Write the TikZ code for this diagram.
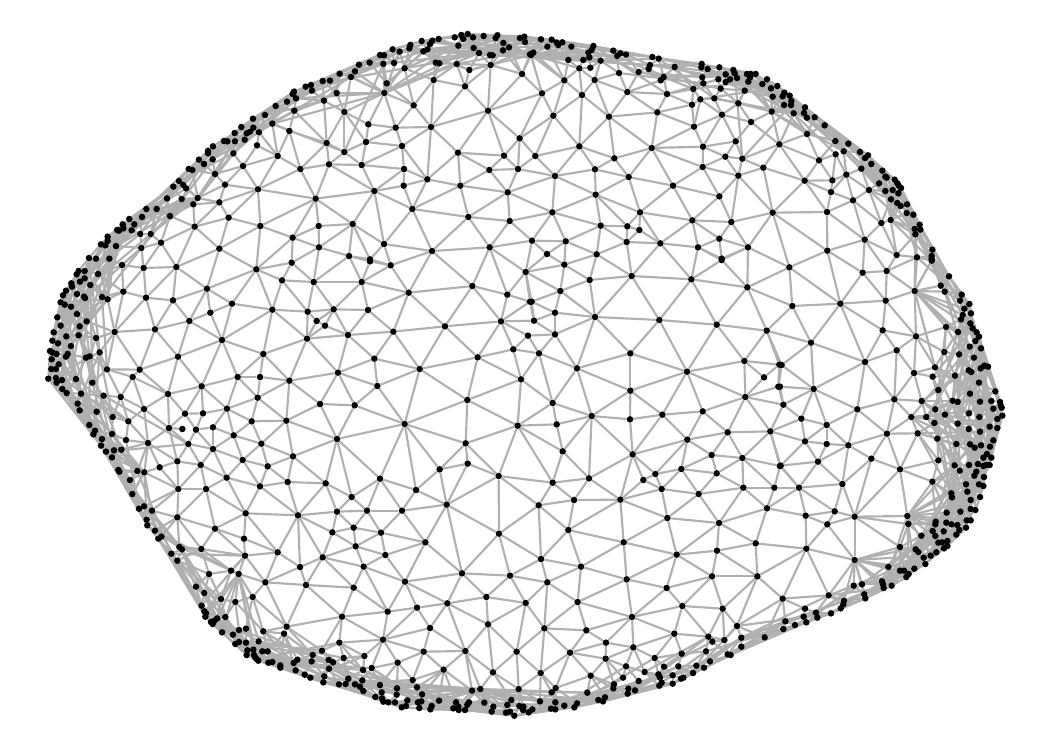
\documentclass[tikz,border=0pt]{standalone}
\usetikzlibrary{backgrounds}
\definecolor{edgegray}{HTML}{B0B0B0}
\tikzset{dotnode/.style={circle,fill=black,inner sep=0pt,minimum size=4.9pt},linkline/.style={draw=edgegray,line width=1.6pt}}
\newcount\NP
\newcount\minL \newcount\minR \newcount\hubid \newcount\scanj \newcount\nearcnt
\newcount\vax \newcount\vay \newcount\vbx \newcount\vby \newcount\vcr \newcount\vdt \newcount\vct \newcount\vdd
\def\rdp#1#2,#3;{\ifx\relax#1\else
  \global\advance\NP 1
  \edef\tmpx{\the\numexpr3*\ox+#1#2\relax}\edef\tmpy{\the\numexpr3*\oy+#3\relax}
  \expandafter\xdef\csname PX\the\NP\endcsname{\tmpx}
  \expandafter\xdef\csname PY\the\NP\endcsname{\tmpy}
  \edef\tmpc{C\the\numexpr(\tmpx/300)*100+(\tmpy/300)\relax}
  \expandafter\ifx\csname\tmpc\endcsname\relax\expandafter\gdef\csname\tmpc\endcsname{}\fi
  \expandafter\xdef\csname\tmpc\endcsname{\unexpanded\expandafter\expandafter\expandafter{\csname\tmpc\endcsname}\noexpand\dopt{\tmpx}{\tmpy}{\the\NP}}
  \expandafter\rdp\fi}
\def\crop#1#2#3{\def\ox{#1}\def\oy{#2}\rdp#3\relax,;}
\crop{30}{20}{737,258;669,296;705,285;727,311;634,321;614,339;670,323;660,335;650,340;687,337;644,359;615,364;549,379;582,363;592,364;681,376;743,408;534,393;534,400;610,400;507,419;548,418;522,432;639,438;476,447;487,450;555,462;447,483;430,500;460,495;468,505;585,494;684,508;411,535;455,537;503,534;490,553;568,547;349,567;380,567;336,591;420,588;596,593;298,597;313,613;278,613;280,625;262,630;267,632;305,631;331,642;362,642;494,620;691,618;233,650;233,663;213,673;226,676;393,668;258,678;334,684;568,686;177,714;198,716;238,716;}
\crop{280}{20}{563,42;544,45;550,57;524,52;611,48;652,46;647,54;579,52;720,54;733,50;735,66;476,57;457,62;450,72;425,63;391,75;388,85;338,88;359,95;430,94;442,88;535,77;581,84;670,69;687,82;669,91;597,99;630,105;638,106;300,105;312,106;750,103;237,134;269,128;310,132;342,129;467,128;478,130;530,132;632,135;374,145;225,154;213,171;179,161;568,150;726,162;461,180;128,183;150,182;320,190;555,199;77,200;93,195;96,212;170,219;313,219;42,215;38,222;48,235;21,245;132,242;43,272;193,276;401,256;624,272;265,313;347,323;453,321;28,333;140,369;258,366;366,378;719,355;534,398;193,396;672,407;147,433;245,435;61,447;372,447;628,450;714,447;371,497;442,478;541,497;683,517;283,513;107,536;397,567;565,591;689,603;116,618;218,612;38,653;117,682;312,672;456,693;629,682;207,708;270,718;}
\crop{530}{20}{33,58;65,59;52,80;80,68;97,67;85,75;124,80;190,78;185,90;175,98;178,112;10,98;3,105;115,120;160,120;212,122;250,92;271,100;261,108;288,104;367,111;386,116;434,141;360,135;356,147;148,145;181,143;267,159;326,156;515,132;514,142;533,147;568,142;610,150;614,160;587,163;621,174;600,178;587,186;565,178;517,172;520,190;651,162;662,162;677,162;655,185;660,172;711,178;697,192;742,198;401,171;392,181;103,181;194,180;723,205;490,207;572,206;644,212;36,220;156,225;292,216;411,222;511,238;553,235;625,250;728,230;486,254;725,275;382,277;576,284;70,287;237,290;663,306;492,320;617,364;148,379;365,384;519,380;748,373;16,408;253,415;586,410;637,416;518,441;700,443;195,448;75,468;296,471;625,467;429,497;197,524;568,529;67,577;330,577;728,578;487,601;604,606;212,617;292,619;328,630;568,656;6,662;107,664;290,666;391,670;504,682;654,682;51,702;200,703;575,716;}
\crop{780}{20}{13,218;8,229;29,227;34,243;33,255;12,255;75,262;41,280;72,279;81,293;104,292;134,316;81,342;166,363;205,371;240,396;191,394;167,403;264,406;255,414;117,421;274,432;244,446;307,452;199,464;316,470;320,473;74,482;157,481;344,479;297,490;352,490;356,497;363,504;267,510;338,510;316,513;355,520;153,516;219,541;333,538;352,549;362,558;381,553;141,576;380,579;400,584;332,600;304,609;419,614;404,627;421,629;406,643;254,659;457,689;142,692;350,705;411,712;455,708;455,716;}
\crop{30}{260}{276,15;341,24;439,21;679,28;164,33;146,33;140,43;204,42;164,55;150,65;124,70;126,80;181,75;108,92;99,106;280,95;531,86;141,102;162,110;165,114;216,111;233,118;348,113;429,121;92,127;104,134;123,140;606,131;141,162;82,172;541,158;727,149;478,183;170,184;92,197;149,199;375,208;254,216;71,217;109,229;146,226;67,242;198,234;84,250;576,240;123,258;60,273;68,278;80,282;209,277;113,282;108,290;700,282;444,290;168,293;179,289;65,298;86,313;64,327;78,327;231,328;329,329;308,351;55,356;78,354;80,368;96,360;138,357;187,368;623,351;690,351;97,387;110,399;153,401;515,379;221,407;272,411;414,402;683,413;143,431;149,451;342,447;200,455;465,461;519,460;591,446;248,471;295,484;665,484;178,495;417,504;457,507;498,509;549,502;195,512;190,523;246,522;611,526;288,540;216,537;354,549;475,552;694,551;549,567;213,557;252,571;274,569;228,575;246,592;442,604;638,600;265,630;268,635;322,633;343,637;389,622;512,615;713,619;590,653;300,660;690,679;445,687;528,687;}
\crop{280}{260}{35,8;270,4;332,16;6,61;101,66;245,66;386,98;577,78;737,36;682,104;83,155;161,148;264,150;110,183;135,197;663,184;750,125;204,225;340,215;495,199;744,227;81,236;700,268;593,292;283,296;419,327;723,358;174,338;28,362;292,378;562,420;120,432;224,436;19,482;374,492;713,497;171,537;557,550;39,589;563,611;479,628;656,648;23,666;137,670;300,656;408,690;}
\crop{530}{260}{103,14;305,48;484,58;575,0;179,60;652,82;91,93;5,125;75,158;12,182;195,171;388,180;560,194;710,212;75,223;27,280;301,280;643,303;748,314;141,325;471,335;702,352;745,380;301,392;646,411;68,429;185,468;397,464;518,454;300,478;80,493;593,517;721,514;472,539;98,574;308,583;545,585;637,594;750,618;454,627;560,640;376,642;340,660;177,655;68,668;395,687;640,683;733,683;}
\crop{780}{260}{28,22;248,38;320,33;455,2;507,49;482,77;494,95;404,93;545,104;540,122;568,132;553,146;181,131;317,122;37,138;548,165;573,160;543,178;571,190;578,205;590,217;597,230;498,201;534,216;308,211;408,229;586,243;569,260;603,265;93,248;350,271;493,276;537,283;582,293;255,306;5,315;602,325;613,317;624,320;465,322;566,331;574,336;402,339;458,350;525,347;597,368;475,390;646,394;101,387;570,401;0,380;518,422;533,426;343,418;425,423;600,425;634,423;660,426;662,437;665,443;640,446;10,434;232,448;466,448;567,460;495,464;667,467;394,471;439,471;598,471;652,477;64,476;463,489;533,491;140,495;629,500;566,507;652,504;600,515;321,521;413,520;472,536;640,541;75,544;140,552;205,556;529,552;570,553;584,563;603,556;630,560;621,582;610,593;634,593;274,596;475,601;114,605;594,612;567,615;524,616;629,615;618,615;610,618;2,617;360,628;589,635;539,632;583,647;612,651;457,665;187,672;57,683;558,673;597,673;610,678;}
\crop{100}{490}{97,12;132,49;117,56;156,62;437,70;594,76;711,65;232,82;140,89;142,106;345,116;697,127;165,122;184,140;175,146;432,146;238,171;246,178;304,177;214,191;533,187;435,197;668,202;232,212;600,231;393,242;416,252;327,252;496,277;618,285;288,290;313,309;458,321;363,327;406,336;305,347;313,364;318,370;316,380;376,381;352,385;343,392;333,396;338,402;726,380;560,410;438,416;417,420;366,427;490,424;399,434;552,431;476,454;438,458;417,456;406,462;718,458;442,481;460,479;440,495;462,495;487,484;503,484;466,503;470,507;475,512;638,495;666,482;731,504;592,509;581,519;635,514;686,510;699,517;517,516;505,518;541,526;541,533;687,536;587,541;614,554;631,563;673,559;670,577;717,583;737,582;745,566;}
\crop{350}{490}{5,21;290,44;566,46;672,30;51,62;156,62;655,120;11,113;93,128;447,131;226,157;17,169;106,195;573,207;41,230;693,230;336,250;480,257;165,275;592,277;11,293;409,321;292,340;527,339;683,336;201,353;113,365;414,403;240,414;583,415;709,421;99,449;43,498;221,485;346,483;500,485;660,488;143,518;39,540;65,534;281,539;429,547;572,549;722,557;188,570;37,571;15,583;30,590;40,603;90,585;141,595;201,592;366,602;391,597;506,597;617,594;605,607;95,607;76,621;140,614;216,613;712,608;96,625;100,635;115,637;135,637;172,631;214,634;204,637;267,632;318,637;357,637;352,644;403,638;484,630;472,645;570,634;616,637;745,630;155,652;168,648;208,654;245,648;241,658;310,655;325,650;326,660;345,660;430,650;425,665;508,648;520,650;519,660;547,658;536,667;603,656;616,658;643,647;681,640;673,652;468,668;480,665;493,677;}
\crop{600}{490}{61,29;296,12;501,55;202,84;357,99;617,77;704,64;682,103;71,157;467,160;619,176;230,194;351,182;336,259;472,259;80,268;200,294;548,326;686,316;247,348;368,356;615,356;732,332;730,343;722,355;96,381;648,368;693,370;611,380;652,383;556,394;619,397;585,405;411,408;550,417;223,431;325,440;373,450;424,443;494,442;337,455;424,470;18,458;100,472;318,484;245,491;383,493;392,495;17,506;164,504;330,514;78,529;192,530;235,529;289,527;312,533;134,546;175,553;218,556;279,549;250,563;243,566;69,563;180,563;185,578;178,587;218,581;116,573;42,583;40,595;85,596;83,611;105,601;15,622;9,634;}
\crop{780}{490}{224,80;382,78;385,102;514,10;516,22;562,5;600,21;572,30;541,65;500,68;572,57;586,60;467,95;466,103;499,98;515,103;532,105;538,120;560,91;572,91;558,113;458,123;466,138;491,124;424,137;529,134;475,158;486,157;502,153;502,168;492,175;360,171;407,178;415,186;469,187;452,197;431,203;436,222;224,210;403,236;325,231;360,242;372,242;386,252;379,261;306,274;309,283;311,294;335,287;246,283;221,287;253,313;256,325;}
\def\runcell#1#2{\csname C\the\numexpr(#1)*100+(#2)\relax\endcsname}
\def\runnine#1#2{\runcell{#1-1}{#2-1}\runcell{#1-1}{#2}\runcell{#1-1}{#2+1}\runcell{#1}{#2-1}\runcell{#1}{#2}\runcell{#1}{#2+1}\runcell{#1+1}{#2-1}\runcell{#1+1}{#2}\runcell{#1+1}{#2+1}}
\def\countnear#1#2#3{\vax=\numexpr\pxi-#1\relax \vay=\numexpr\pyi-#2\relax
  \ifnum\numexpr\vax*\vax+\vay*\vay\relax<4356 \advance\nearcnt 1 \fi}
\let\dopt\countnear
\scanj=0
\def\densescan{\ifnum\scanj<\NP
  \advance\scanj 1
  \edef\pxi{\csname PX\the\scanj\endcsname}\edef\pyi{\csname PY\the\scanj\endcsname}
  \nearcnt=0
  \edef\cx{\the\numexpr\pxi/300\relax}\edef\cy{\the\numexpr\pyi/300\relax}
  \runnine{\cx}{\cy}
  \expandafter\xdef\csname PD\the\scanj\endcsname{\ifnum\nearcnt>3 1\else 0\fi}
  \expandafter\densescan\fi}
\densescan
\def\testk#1#2#3{\ifnum#3=\ci\relax\else\ifnum#3=\cjj\relax\else
  \vax=\numexpr\pxi-#1\relax \vay=\numexpr\pyi-#2\relax
  \vbx=\numexpr\pxj-#1\relax \vby=\numexpr\pyj-#2\relax
  \vcr=\numexpr\vax*\vby-\vay*\vbx\relax
  \ifnum\vcr=0 \else
    \vdt=\numexpr\vax*\vbx+\vay*\vby\relax
    \ifnum\vcr>0 \vct=\numexpr\vdt*256/\vcr\relax
      \ifnum\vct<\minL \minL=\vct\fi
    \else \vct=\numexpr-\vdt*256/(-\vcr)\relax \vct=-\vct
      \ifnum\vct<\minR \minR=\vct\fi
    \fi
  \fi
\fi\fi}
\def\searchj#1#2#3{\ifnum#3>\ci\relax
  \vax=\numexpr#1-\pxi\relax \vay=\numexpr#2-\pyi\relax
  \vdd=\numexpr\vax*\vax+\vay*\vay\relax
  \ifnum\vdd<90000
    \def\pxj{#1}\def\pyj{#2}\def\cjj{#3}\minL=1000000 \minR=1000000
    \edef\mx{\the\numexpr(\pxi+\pxj)/600\relax}\edef\my{\the\numexpr(\pyi+\pyj)/600\relax}
    \let\dopt\testk
    \runnine{\mx}{\my}
    \let\dopt\searchj
    \edef\bothdense{\the\numexpr\csname PD\ci\endcsname*\csname PD#3\endcsname\relax}
    \edef\sumij{\the\numexpr\ci+#3\relax}
    \ifnum\bothdense=1
      \ifnum\vdd>22500
        \ifnum\numexpr\sumij-16*((\sumij-8)/16)\relax=0 \draw[linkline] (n\ci) -- (n\cjj);\fi
      \fi
      \ifnum\numexpr\minL+\minR\relax>0
        \ifnum\numexpr\sumij-3*((\sumij-1)/3)\relax=0 \else \draw[linkline] (n\ci) -- (n\cjj);\fi
      \fi
    \else
      \ifnum\numexpr\minL+\minR\relax>0 \draw[linkline] (n\ci) -- (n\cjj);\fi
    \fi
  \fi\fi}
\def\fanscan{\ifnum\scanj<\NP
  \advance\scanj 1
  \ifnum\csname PD\the\scanj\endcsname=1
  \ifnum\numexpr\scanj-4*((\scanj-2)/4)\relax=0
    \vax=\numexpr\csname PX\the\scanj\endcsname-\hx\relax
    \vay=\numexpr\csname PY\the\scanj\endcsname-\hy\relax
    \ifnum\numexpr\vax*\vax+\vay*\vay\relax<\hr
      \vbx=\numexpr\csname PX\the\scanj\endcsname-1560\relax
      \vby=\numexpr\csname PY\the\scanj\endcsname-1125\relax
      \vdd=\numexpr\hx-1560\relax \vct=\numexpr\hy-1125\relax
      \ifnum\numexpr\vbx*\vbx+\vby*\vby\relax>\numexpr\vdd*\vdd+\vct*\vct\relax
        \ifnum\scanj=\hubid\else\draw[linkline] (n\the\hubid) -- (n\the\scanj);\fi
      \fi
    \fi
  \fi\fi
  \expandafter\fanscan\fi}
\def\findhub{\ifnum\scanj<\NP
  \advance\scanj 1
  \ifnum\csname PX\the\scanj\endcsname=\hx\relax
    \ifnum\csname PY\the\scanj\endcsname=\hy\relax \hubid=\scanj\fi
  \fi
  \expandafter\findhub\fi}
\def\hubfan#1#2#3{\def\hx{#1}\def\hy{#2}\edef\hr{\the\numexpr#3*#3\relax}\scanj=0 \findhub \scanj=0 \fanscan}
\begin{document}
\begin{tikzpicture}[x=0.25pt,y=-0.25pt]
\useasboundingbox (0,0) rectangle (3150,2250);
\foreach \ci in {1,...,\the\NP}{\node[dotnode] (n\ci) at (\csname PX\ci\endcsname,\csname PY\ci\endcsname) {};}
\begin{pgfonlayer}{background}
\foreach \ci in {1,...,\the\NP}{%
  \edef\pxi{\csname PX\ci\endcsname}\edef\pyi{\csname PY\ci\endcsname}%
  \edef\cx{\the\numexpr\pxi/300\relax}\edef\cy{\the\numexpr\pyi/300\relax}%
  \let\dopt\searchj
  \runnine{\cx}{\cy}%
}
\hubfan{2672}{660}{300}
\hubfan{2722}{1548}{270}
\hubfan{2315}{335}{330}
\hubfan{593}{594}{300}
\hubfan{323}{898}{240}
\hubfan{433}{1417}{270}
\hubfan{546}{1648}{300}
\hubfan{716}{1722}{300}
\hubfan{1416}{2072}{390}\hubfan{1441}{2067}{390}
\hubfan{2224}{1913}{360}
\hubfan{1153}{279}{360}
\hubfan{1593}{165}{390}
\hubfan{2744}{873}{240}
\hubfan{2564}{1680}{270}
\end{pgfonlayer}
\end{tikzpicture}
\end{document}
